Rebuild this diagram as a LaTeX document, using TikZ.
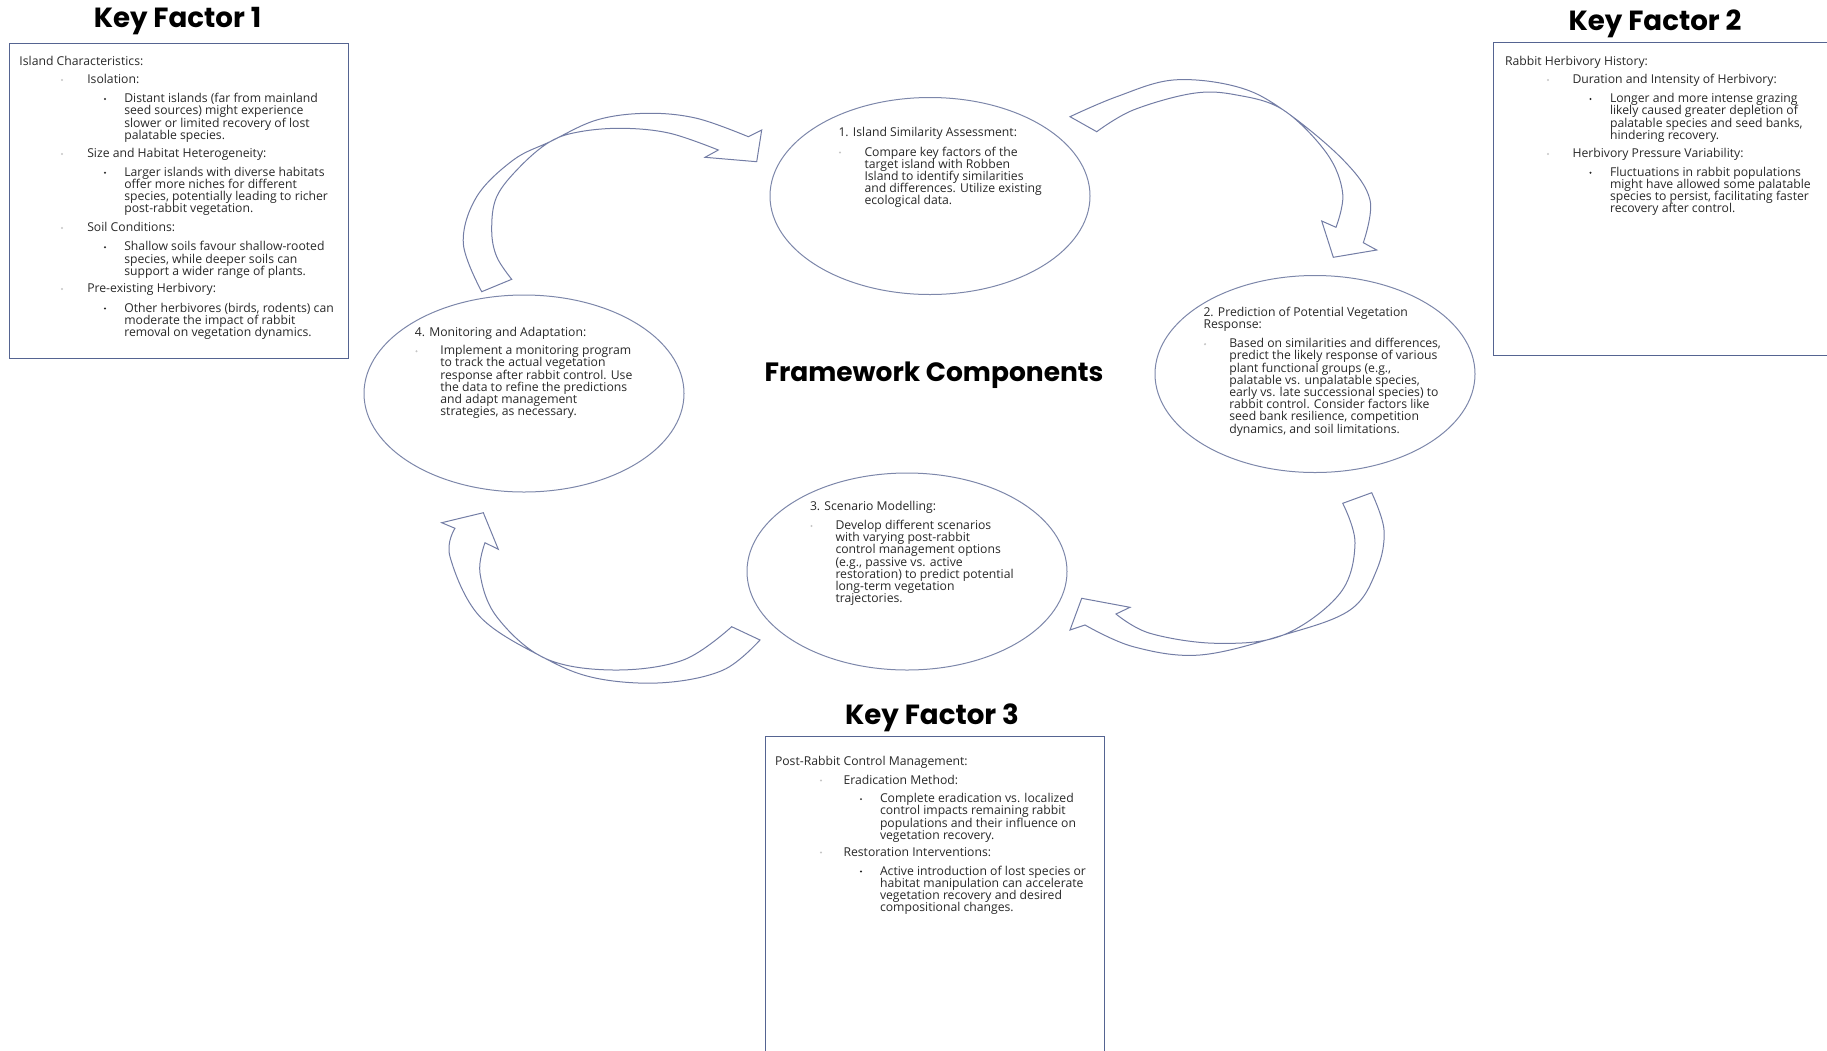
\documentclass[tikz,border=0pt]{standalone}
\usepackage{fontspec}
\setmainfont{Open Sans}
\newfontfamily\txtfont{Open Sans}
\newfontfamily\ttlfont{Poppins}
\usetikzlibrary{shapes.geometric}
\definecolor{txtc}{RGB}{40,40,40}
\definecolor{boxc}{RGB}{85,100,145}
\definecolor{ellc}{RGB}{125,135,170}
\definecolor{arrc}{RGB}{115,125,165}
\newcommand\ptext[1]{\vtop{\hsize=320pt\parindent=0pt\parskip=0pt\lineskiplimit=-50pt\rightskip=0pt plus 1fil\relax #1\par}}
\tikzset{
  txt/.style={anchor=base west, inner sep=0pt, outer sep=0pt, text=txtc, font=\txtfont\fontsize{12.2}{12.2}\selectfont},
  ttl/.style={anchor=base, inner sep=0pt, text=black, font=\ttlfont\bfseries\fontsize{27.7}{32}\selectfont},
  dotA/.style={circle, fill=gray!45, inner sep=0pt, minimum size=2.4pt},
  dotB/.style={circle, fill=black!85, inner sep=0pt, minimum size=2.2pt},
  ell/.style={ellipse, draw=ellc, line width=1pt, minimum width=320pt, minimum height=197pt, inner sep=0pt},
  kbox/.style={draw=boxc, line width=1.2pt, anchor=north west, inner sep=0pt},
  barrow/.style={draw=arrc, line width=1pt, line join=miter},
}
\begin{document}
\begin{tikzpicture}[x=1pt,y=-1pt]
\useasboundingbox (0,0) rectangle (1827,1050);
\clip (0,0) rectangle (1827,1050);

% titles
\node[ttl] (kf1) at (177.5,27.5) {Key Factor 1};
\node[ttl] (kf2) at (1655,30.5) {Key Factor 2};
\node[ttl] (kf3) at (932,724) {Key Factor 3};
\node[ttl, font=\ttlfont\bfseries\fontsize{26.5}{30}\selectfont] (fw) at (934,381) {Framework Components};

% boxes
\node[kbox, minimum width=339pt, minimum height=315pt] (box1) at (9,43) {};
\node[kbox, minimum width=400pt, minimum height=313pt] (box2) at (1493,42) {};
\node[kbox, minimum width=339pt, minimum height=400pt] (box3) at (764.5,736) {};

% box 1 text
\node[txt] (b1h) at (19.5,65) {Island Characteristics:};
\node[dotA] (b1d1) at (62,80) {};
\node[txt] (b1i1) at (87.3,83.6) {Isolation:};
\node[dotB] (b1e1) at (105,99) {};
\node[txt] (b1p1) at (124.3,102.6) {\ptext{Distant islands (far from mainland\par seed sources) might experience\par slower or limited recovery of lost\par palatable species.}};
\node[dotA] (b1d2) at (62,154) {};
\node[txt] (b1i2) at (87.3,157.5) {Size and Habitat Heterogeneity:};
\node[dotB] (b1e2) at (105,172.8) {};
\node[txt] (b1p2) at (124.3,176.3) {\ptext{Larger islands with diverse habitats\par offer more niches for different\par species, potentially leading to richer\par post-rabbit vegetation.}};
\node[dotA] (b1d3) at (62,228) {};
\node[txt] (b1i3) at (87.3,231.5) {Soil Conditions:};
\node[dotB] (b1e3) at (105,247.3) {};
\node[txt] (b1p3) at (124.3,250.8) {\ptext{Shallow soils favour shallow-rooted\par species, while deeper soils can\par support a wider range of plants.}};
\node[dotA] (b1d4) at (62,289) {};
\node[txt] (b1i4) at (87.3,292.5) {Pre-existing Herbivory:};
\node[dotB] (b1e4) at (105,308.5) {};
\node[txt] (b1p4) at (124.3,312) {\ptext{Other herbivores (birds, rodents) can\par moderate the impact of rabbit\par removal on vegetation dynamics.}};

% box 2 text
\node[txt] (b2h) at (1505,65) {Rabbit Herbivory History:};
\node[dotA] (b2d1) at (1548,80) {};
\node[txt] (b2i1) at (1572.5,83.6) {Duration and Intensity of Herbivory:};
\node[dotB] (b2e1) at (1590.5,99) {};
\node[txt] (b2p1) at (1610,102.6) {\ptext{Longer and more intense grazing\par likely caused greater depletion of\par palatable species and seed banks,\par hindering recovery.}};
\node[dotA] (b2d2) at (1548,154) {};
\node[txt] (b2i2) at (1572.5,157.5) {Herbivory Pressure Variability:};
\node[dotB] (b2e2) at (1590.5,172.8) {};
\node[txt] (b2p2) at (1610,176.3) {\ptext{Fluctuations in rabbit populations\par might have allowed some palatable\par species to persist, facilitating faster\par recovery after control.}};

% box 3 text
\node[txt] (b3h) at (775,765) {Post-Rabbit Control Management:};
\node[dotA] (b3d1) at (821,780.5) {};
\node[txt] (b3i1) at (843.5,784) {Eradication Method:};
\node[dotB] (b3e1) at (861,799.1) {};
\node[txt] (b3p1) at (880,802.6) {\ptext{Complete eradication vs. localized\par control impacts remaining rabbit\par populations and their influence on\par vegetation recovery.}};
\node[dotA] (b3d2) at (821,852.5) {};
\node[txt] (b3i2) at (843.5,856) {Restoration Interventions:};
\node[dotB] (b3e2) at (861,871.5) {};
\node[txt] (b3p2) at (880,875) {\ptext{Active introduction of lost species or\par habitat manipulation can accelerate\par vegetation recovery and desired\par compositional changes.}};

% ellipses
\node[ell] (e1) at (930,196) {};
\node[ell] (e2) at (1315,374) {};
\node[ell] (e3) at (907,571.5) {};
\node[ell] (e4) at (524,393.5) {};

\node[txt] (e1h) at (838.5,136.5) {1. Island Similarity Assessment:};
\node[dotA] (e1d) at (840,152.5) {};
\node[txt] (e1p) at (864.5,156) {\ptext{Compare key factors of the\par target island with Robben\par Island to identify similarities\par and differences. Utilize existing\par ecological data.}};

\node[txt] (e2h) at (1203.5,316.3) {\ptext{2. Prediction of Potential Vegetation\par Response:}};
\node[dotA] (e2d) at (1205,344.2) {};
\node[txt] (e2p) at (1229.3,347.7) {\ptext{Based on similarities and differences,\par predict the likely response of various\par plant functional groups (e.g.,\par palatable vs. unpalatable species,\par early vs. late successional species) to\par rabbit control. Consider factors like\par seed bank resilience, competition\par dynamics, and soil limitations.}};

\node[txt] (e3h) at (810,510.9) {3. Scenario Modelling:};
\node[dotA] (e3d) at (811.5,526) {};
\node[txt] (e3p) at (835.5,529.5) {\ptext{Develop different scenarios\par with varying post-rabbit\par control management options\par (e.g., passive vs. active\par restoration) to predict potential\par long-term vegetation\par trajectories.}};

\node[txt] (e4h) at (414.8,336.1) {4. Monitoring and Adaptation:};
\node[dotA] (e4d) at (416.5,351.2) {};
\node[txt] (e4p) at (440.4,354.7) {\ptext{Implement a monitoring program\par to track the actual vegetation\par response after rabbit control. Use\par the data to refine the predictions\par and adapt management\par strategies, as necessary.}};

% curved block arrows
\draw[barrow] plot[smooth,tension=0.6] coordinates {(481.7,291.7) (463.3,243.3) (476.7,196.7) (513.3,160) (550,141.7) (596.7,120) (646.7,113.3) (696.7,118.3) (748.3,136.7)} -- (761.7,130) -- (756.7,161.7) -- (705,157.3) -- (718.3,150) -- plot[smooth,tension=0.6] coordinates {(718.3,150) (670,133.3) (623.3,128.3) (580,131.7) (550,141.7) (520,166.7) (496.7,196.7) (491.7,230) (496.7,256.7) (511.7,279.3)} -- cycle;

\draw[barrow] plot[smooth,tension=0.6] coordinates {(1070,116.7) (1116.7,96.7) (1173.3,80) (1236.7,86.7) (1283.3,110) (1343.3,160) (1370,200) (1363.3,242.7)} -- (1376.7,250) -- (1333.3,257.3) -- (1321.7,221) -- (1336,227.3) -- plot[smooth,tension=0.6] coordinates {(1336,227.3) (1342.7,193.3) (1326.7,153.3) (1283.3,110) (1236.7,95) (1193.3,93.3) (1133.3,110) (1096.7,131.7)} -- cycle;

\draw[barrow] plot[smooth,tension=0.6] coordinates {(1371.7,492.7) (1384,530) (1376.7,570) (1350,610) (1283.3,635) (1200,655) (1133.3,646.7) (1085,625)} -- (1070,630) -- (1081.7,598.3) -- (1130,607.3) -- (1116,614) -- plot[smooth,tension=0.6] coordinates {(1116,614) (1150,633.3) (1216.7,643.3) (1283.3,635) (1340,593.3) (1355,543.3) (1342.7,503.3)} -- cycle;

\draw[barrow] plot[smooth,tension=0.6] coordinates {(760,640) (723.3,670) (663.3,682.7) (596.7,678.3) (545,658.3) (480,616.7) (450,556.7) (455,528.3)} -- (441.7,522.7) -- (483.3,512.7) -- (498.3,549.3) -- (485,542.7) -- plot[smooth,tension=0.6] coordinates {(485,542.7) (480,573.3) (496.7,616.7) (545,658.3) (613.3,670) (683.3,660) (731.7,626.7)} -- cycle;
\end{tikzpicture}
\end{document}
